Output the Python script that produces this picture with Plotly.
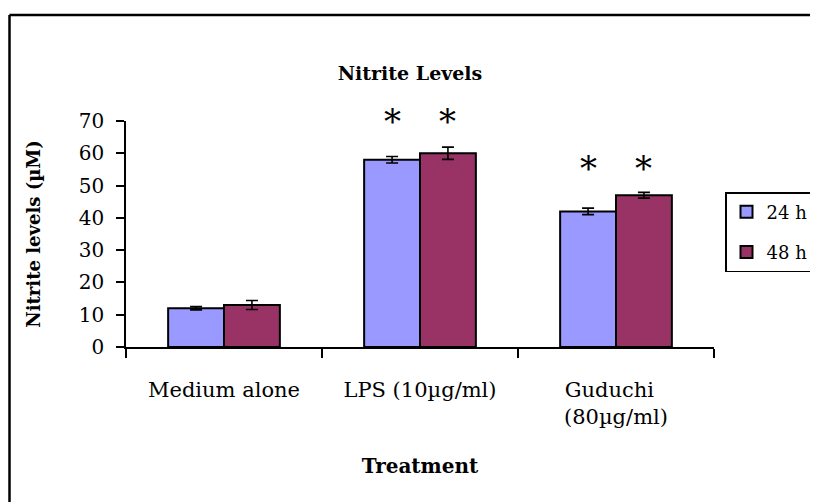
import plotly.graph_objects as go

categories = ["Medium alone", "LPS (10µg/ml)", "Guduchi\u00a0\u00a0<br>(80µg/ml)"]
series_names = ["24 h", "48 h"]
values_24h = [12.0, 58.0, 42.0]
errors_24h = [0.5, 1.0, 1.0]
values_48h = [13.0, 60.0, 47.0]
errors_48h = [1.4, 1.9, 0.9]
y_ticks = [0, 10, 20, 30, 40, 50, 60, 70]
star_24h = ["", "*", "*"]
star_48h = ["", "*", "*"]
star_levels = [0, 70.0, 55.5]

colors = ["#9999FF", "#993366"]
FONT = "DejaVu Serif"
OFF = 8  # page body margin
W, H = 818 - OFF, 502 - OFF
L, R, T, B = 126 - OFF, W - (714 - OFF), 121 - OFF, H - (347 - OFF)
bargap = 0.43

fig = go.Figure()
for name, vals, errs, col in [
    (series_names[0], values_24h, errors_24h, colors[0]),
    (series_names[1], values_48h, errors_48h, colors[1]),
]:
    fig.add_trace(go.Bar(
        x=categories, y=vals, name=name, legendgroup=name,
        marker=dict(color=col, line=dict(color="black", width=2)),
        error_y=dict(type="data", array=errs, color="black", thickness=1.6, width=6),
    ))

half = (1 - bargap) / 4
for i, cat in enumerate(categories):
    for s, stars in enumerate([star_24h, star_48h]):
        if stars[i]:
            fig.add_annotation(
                x=i + (-half if s == 0 else half), y=star_levels[i], xref="x", yref="y",
                text=stars[i], showarrow=False, yanchor="middle",
                font=dict(family=FONT, size=34, color="black"),
            )

pw = W - L - R
ph = H - T - B
def px_x(px):  # reference-window pixel -> paper fraction
    return (px - OFF - L) / pw
def px_y(py):
    return (H - B - (py - OFF)) / ph

frame = dict(color="black", width=2.5)
fig.add_shape(type="line", xref="paper", yref="paper",
              x0=px_x(9.5), x1=px_x(900), y0=px_y(15), y1=px_y(15), line=frame, layer="above")
fig.add_shape(type="line", xref="paper", yref="paper",
              x0=px_x(9.5), x1=px_x(9.5), y0=px_y(15), y1=px_y(600), line=frame, layer="above")

fig.update_layout(
    width=W, height=H,
    margin=dict(l=L, r=R, t=T, b=B, autoexpand=False),
    paper_bgcolor="white", plot_bgcolor="white",
    barmode="group", bargap=bargap, bargroupgap=0,
    title=dict(text="<b>Nitrite Levels</b>", x=(410 - OFF) / W, xanchor="center",
               y=1 - (73 - OFF) / H, yanchor="middle", yref="container",
               font=dict(family=FONT, size=19, color="black")),
    showlegend=True,
    legend=dict(x=px_x(725), y=px_y(192), xanchor="left", yanchor="top",
                bordercolor="black", borderwidth=1.5, bgcolor="white",
                font=dict(family=FONT, size=18, color="black"),
                tracegroupgap=14, traceorder="grouped"),
    font=dict(family=FONT, color="black"),
)
fig.update_yaxes(
    range=[0, 70], tickvals=y_ticks, showline=True, linecolor="black", linewidth=1.5,
    ticks="outside", ticklen=8, tickcolor="black", tickwidth=1.5,
    showgrid=False, zeroline=False, ticklabelstandoff=8,
    tickfont=dict(family=FONT, size=20, color="black"),
    title=dict(text="<b>Nitrite levels (µM)</b>", standoff=33,
               font=dict(family=FONT, size=18, color="black")),
)
fig.update_xaxes(
    showline=True, linecolor="black", linewidth=1.5,
    ticks="outside", tickson="boundaries", ticklen=9, tickcolor="black", tickwidth=1.5,
    showgrid=False, ticklabelstandoff=23,
    tickfont=dict(family=FONT, size=21, color="black"),
    title=dict(text="<b>Treatment</b>", standoff=31,
               font=dict(family=FONT, size=20, color="black")),
)
fig.write_html("out.html")
